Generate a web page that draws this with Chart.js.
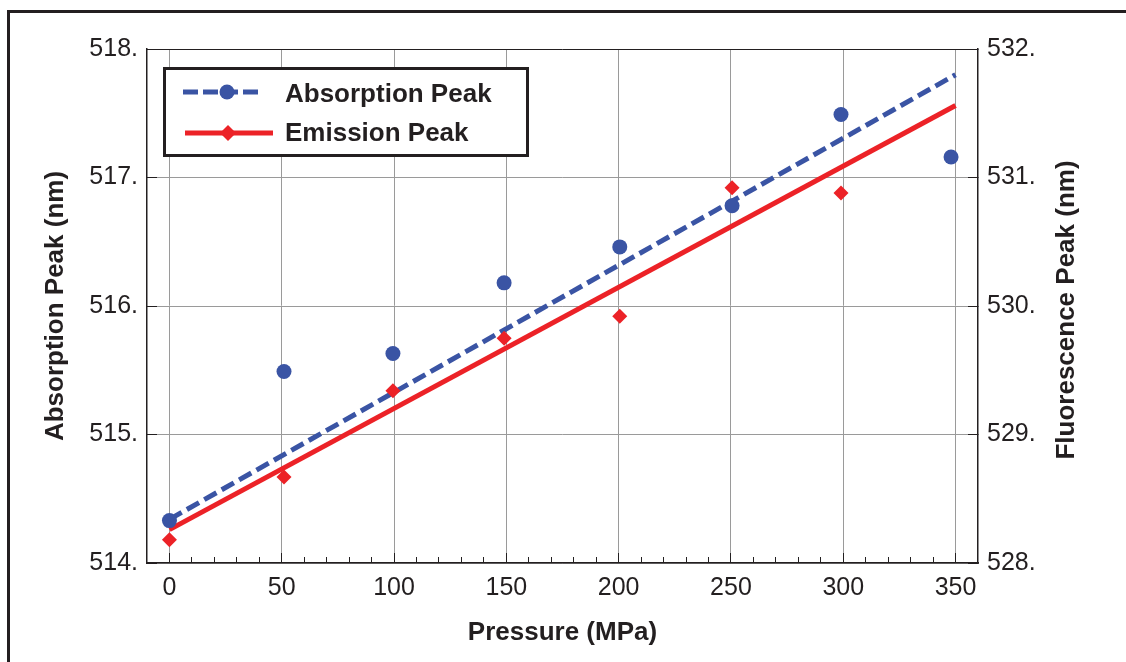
<!DOCTYPE html>
<html>
<head>
<meta charset="utf-8">
<script src="https://cdn.jsdelivr.net/npm/chart.js@4"></script>
<style>
body{margin:0;background:#fff;overflow:hidden;}
#frame{position:absolute;left:7px;top:10px;width:1300px;height:900px;border-left:3px solid #231f20;border-top:3px solid #231f20;}
#wrap{position:absolute;left:0;top:0;width:1126px;height:662px;}
</style>
</head>
<body>
<div id="frame"></div>
<div id="wrap"><canvas id="chart"></canvas></div>
<script>
// values
let pressureAbs = [0, 51, 99.5, 149, 200.5, 250.5, 299, 348];
let absorptionPeak = [514.33, 515.49, 515.63, 516.18, 516.46, 516.78, 517.49, 517.16];
let pressureEm = [0, 51, 99.5, 149, 200.5, 250.5, 299];
let emissionPeak = [528.18, 528.67, 529.34, 529.75, 529.92, 530.92, 530.88];
let trendX = [0, 350];
let absorptionTrend = [514.34, 517.80];
let emissionTrend = [528.26, 531.56];

let blue = "#3a54a4";
let red = "#ec2227";
let ink = "#231f20";
let gridGrey = "#9a9a9a";
let fontFam = "'Liberation Sans', Arial, Helvetica, sans-serif";

function pts(xs, ys){
return xs.map((x,i)=>({x:x, y:ys[i]}));
}
function isMajor(v){
return v % 50 === 0 && v >= 0 && v <= 350;
}

let legendBox = {
id:"legendBox",
afterDraw(chart){
let ctx = chart.ctx;
ctx.save();
ctx.fillStyle = "#fff";
ctx.fillRect(163, 67, 366, 90);
ctx.strokeStyle = ink;
ctx.lineWidth = 3;
ctx.strokeRect(164.5, 68.5, 363, 87);
// absorption sample
ctx.strokeStyle = blue;
ctx.lineWidth = 5;
ctx.setLineDash([15, 5]);
ctx.beginPath();
ctx.moveTo(183, 92);
ctx.lineTo(262, 92);
ctx.stroke();
ctx.setLineDash([]);
ctx.fillStyle = blue;
ctx.beginPath();
ctx.arc(227, 92, 7.5, 0, Math.PI*2);
ctx.fill();
// emission sample
ctx.strokeStyle = red;
ctx.beginPath();
ctx.moveTo(185, 133);
ctx.lineTo(273, 133);
ctx.stroke();
ctx.fillStyle = red;
ctx.beginPath();
ctx.moveTo(228, 125);
ctx.lineTo(236, 133);
ctx.lineTo(228, 141);
ctx.lineTo(220, 133);
ctx.closePath();
ctx.fill();
ctx.fillStyle = ink;
ctx.font = "bold 26px " + fontFam;
ctx.textBaseline = "alphabetic";
ctx.fillText("Absorption Peak", 285, 102);
ctx.fillText("Emission Peak", 285, 141);
// right axis title, read bottom to top like the left one
let area = chart.chartArea;
ctx.translate(chart.scales.y2.right - 59, (area.top + area.bottom)/2 + 4);
ctx.rotate(-Math.PI/2);
ctx.textAlign = "center";
ctx.textBaseline = "middle";
ctx.fillText("Fluorescence Peak (nm)", 0, 0);
ctx.restore();
}
};

let tickFont = {family:fontFam, size:25};
let titleFont = {family:fontFam, size:26, weight:"bold"};

chart = new Chart(document.getElementById("chart"),{
type:"scatter",
data:{
datasets:[
{
label:"Absorption Peak",
data:pts(pressureAbs, absorptionPeak),
yAxisID:"y",
xAxisID:"x",
pointStyle:"circle",
pointRadius:7.5,
pointBackgroundColor:blue,
pointBorderWidth:0,
showLine:false
},
{
label:"Emission Peak",
data:pts(pressureEm, emissionPeak),
yAxisID:"y2",
xAxisID:"x",
pointStyle:"rectRot",
pointRadius:7.5,
pointBackgroundColor:red,
pointBorderWidth:0,
showLine:false
},
{
label:"Absorption fit",
data:pts(trendX, absorptionTrend),
yAxisID:"y",
xAxisID:"x",
showLine:true,
borderColor:blue,
borderWidth:5,
borderDash:[14, 6],
pointRadius:0
},
{
label:"Emission fit",
data:pts(trendX, emissionTrend),
yAxisID:"y2",
xAxisID:"x",
showLine:true,
borderColor:red,
borderWidth:5,
pointRadius:0
}
]
},
options:{
responsive:true,
maintainAspectRatio:false,
animation:false,
layout:{padding:{top:49, left:0, right:0, bottom:0}},
plugins:{legend:{display:false}, tooltip:{enabled:false}},
scales:{
x2:{
type:"linear",
position:"bottom",
weight:0,
min:-10,
max:360,
afterFit:s=>{ s.height = 0; },
ticks:{display:false, stepSize:10, autoSkip:false},
grid:{drawOnChartArea:false, tickLength:-6, tickWidth:1, tickColor:ctx=>(ctx.tick && (ctx.tick.value<=-10 || ctx.tick.value>=360)) ? "rgba(0,0,0,0)" : ink},
border:{display:false}
},
x:{
type:"linear",
position:"bottom",
weight:1,
min:-10,
max:360,
afterFit:s=>{ s.height = 99; },
ticks:{
stepSize:10,
autoSkip:false,
maxRotation:0,
padding:20,
color:ink,
font:tickFont,
callback:v=>isMajor(v) ? String(v) : ""
},
grid:{
tickLength:-10,
tickWidth:1,
lineWidth:1,
color:ctx=>(ctx.tick && isMajor(ctx.tick.value)) ? gridGrey : "rgba(0,0,0,0)",
tickColor:ctx=>(ctx.tick && isMajor(ctx.tick.value)) ? ink : "rgba(0,0,0,0)"
},
border:{color:ink, width:1.5},
title:{display:true, text:"Pressure (MPa)", color:ink, font:titleFont, padding:{top:0, bottom:14}}
},
y:{
position:"left",
min:514,
max:518,
afterFit:s=>{ s.width = 147; },
ticks:{stepSize:1, padding:19, color:ink, font:tickFont, callback:v=>v + "."},
grid:{
tickLength:-10,
tickWidth:1,
lineWidth:1,
color:ctx=>(ctx.tick && ctx.tick.value===518) ? ink : gridGrey,
tickColor:ink
},
border:{color:ink, width:1.5},
title:{display:true, text:"Absorption Peak (nm)", color:ink, font:titleFont, padding:{top:40, bottom:0}}
},
y2:{
position:"right",
min:528,
max:532,
afterFit:s=>{ s.width = 148; },
ticks:{stepSize:1, padding:19, color:ink, font:tickFont, callback:v=>v + "."},
grid:{drawOnChartArea:false, tickLength:-10, tickWidth:1, tickColor:ink},
border:{color:ink, width:1.5},
title:{display:false}
}
}
},
plugins:[legendBox]
});
</script>
</body>
</html>
